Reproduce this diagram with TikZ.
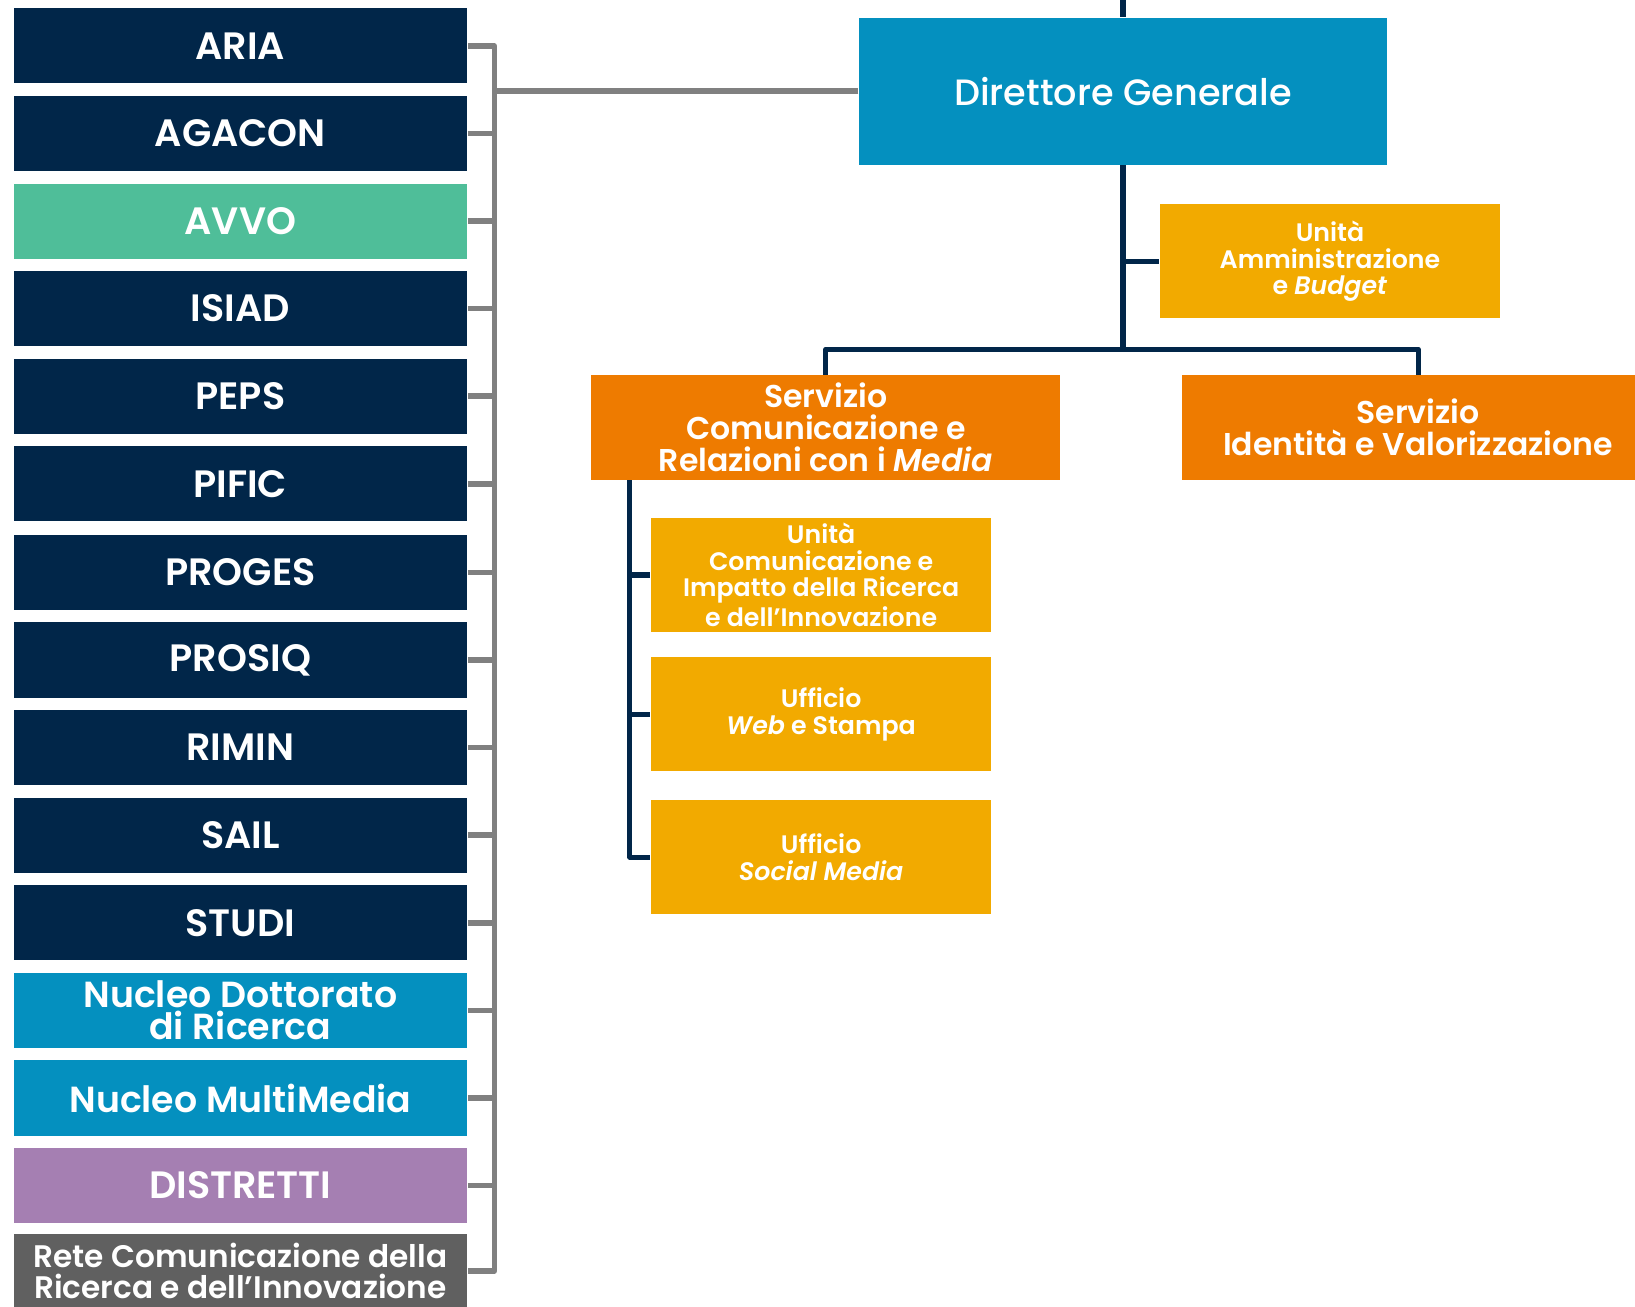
\documentclass[tikz,border=0pt]{standalone}
\usepackage{fontspec}
\setmainfont{Poppins}[BoldFont={Poppins SemiBold}, BoldItalicFont={Poppins SemiBold Italic}]
\newfontfamily\dgfont{Poppins Medium}
\usepackage{xcolor}
\definecolor{cnrnavy}{RGB}{1,38,73}
\definecolor{cnrteal}{RGB}{79,190,153}
\definecolor{cnrblue}{RGB}{4,144,191}
\definecolor{cnrpurple}{RGB}{165,127,178}
\definecolor{cnrdark}{RGB}{96,96,96}
\definecolor{cnrgray}{RGB}{128,128,128}
\definecolor{cnrorange}{RGB}{238,123,0}
\definecolor{cnryellow}{RGB}{242,170,0}

\begin{document}
\begin{tikzpicture}[x=0.1mm, y=-0.1mm,
    unitbox/.style={fill=cnrnavy, text=white, minimum width=43.5mm, minimum height=7.2mm, inner sep=0pt, align=center, font=\bfseries\fontsize{10.4}{9}\selectfont},
    nucleobox/.style={unitbox, fill=cnrblue, font=\bfseries\fontsize{9.9}{8.8}\selectfont},
    dgbox/.style={fill=cnrblue, text=white, minimum width=50.6mm, minimum height=14.1mm, inner sep=0pt, font=\dgfont\fontsize{10}{12}\selectfont},
    servbox/.style={fill=cnrorange, text=white, minimum width=45mm, minimum height=10mm, inner sep=0pt, align=center, font=\bfseries\fontsize{8.6}{8.7}\selectfont},
    officebox/.style={fill=cnryellow, text=white, minimum width=32.6mm, minimum height=10.9mm, inner sep=0pt, align=center, font=\bfseries\fontsize{6.9}{7.2}\selectfont},
    grayline/.style={draw=cnrgray, line width=1.5pt, line join=round},
    navyline/.style={draw=cnrnavy, line width=1.4pt, line join=round}]
    \useasboundingbox (0,0) rectangle (1568,1253);

    % Left column of units
    \node[unitbox] (aria) at (230.5,44) {ARIA};
    \node[unitbox] (agacon) at (230.5,128) {AGACON};
    \node[unitbox, fill=cnrteal] (avvo) at (230.5,212) {AVVO};
    \node[unitbox] (isiad) at (230.5,296) {ISIAD};
    \node[unitbox] (peps) at (230.5,380) {PEPS};
    \node[unitbox] (pific) at (230.5,464) {PIFIC};
    \node[unitbox] (proges) at (230.5,549) {PROGES};
    \node[unitbox] (prosiq) at (230.5,633) {PROSIQ};
    \node[unitbox] (rimin) at (230.5,717) {RIMIN};
    \node[unitbox] (sail) at (230.5,801) {SAIL};
    \node[unitbox] (studi) at (230.5,885) {STUDI};
    \node[nucleobox] (dottorato) at (230.5,969) {Nucleo Dottorato\\di Ricerca};
    \node[nucleobox] (multimedia) at (230.5,1053) {Nucleo MultiMedia};
    \node[unitbox, fill=cnrpurple] (distretti) at (230.5,1137) {DISTRETTI};
    \node[unitbox, fill=cnrdark, font=\bfseries\fontsize{8.5}{8.6}\selectfont] (rete) at (230.5,1219) {Rete Comunicazione della\\Ricerca e dell'Innovazione};

    % Direzione
    \node[dgbox] (dg) at (1077,87.5) {Direttore Generale};
    \node[officebox] (amm) at (1275.5,250.5) {Unità\\Amministrazione\\e \textit{Budget}};

    % Servizi
    \node[servbox] (scom) at (792,410) {Servizio\\Comunicazione e\\Relazioni con i \textit{Media}};
    \node[servbox, minimum width=45.2mm] (sid) at (1360,410) {Servizio\\Identità e Valorizzazione};

    % Unita e uffici
    \node[officebox] (ucom) at (787.5,551.5) {Unità\\Comunicazione e\\Impatto della Ricerca\\e dell'Innovazione};
    \node[officebox] (uweb) at (787.5,685) {Ufficio\\\textit{Web} e Stampa};
    \node[officebox] (usoc) at (787.5,822) {Ufficio\\\textit{Social Media}};

    % Gray bus to the units
    \coordinate (bus) at (474,0);
    \draw[grayline] (aria.east) -- (aria.east -| bus) |- (rete.east);
    \draw[grayline] (agacon.east) -- (agacon.east -| bus);
    \draw[grayline] (avvo.east) -- (avvo.east -| bus);
    \draw[grayline] (isiad.east) -- (isiad.east -| bus);
    \draw[grayline] (peps.east) -- (peps.east -| bus);
    \draw[grayline] (pific.east) -- (pific.east -| bus);
    \draw[grayline] (proges.east) -- (proges.east -| bus);
    \draw[grayline] (prosiq.east) -- (prosiq.east -| bus);
    \draw[grayline] (rimin.east) -- (rimin.east -| bus);
    \draw[grayline] (sail.east) -- (sail.east -| bus);
    \draw[grayline] (studi.east) -- (studi.east -| bus);
    \draw[grayline] (dottorato.east) -- (dottorato.east -| bus);
    \draw[grayline] (multimedia.east) -- (multimedia.east -| bus);
    \draw[grayline] (distretti.east) -- (distretti.east -| bus);
    \draw[grayline] (dg.west) -- (dg.west -| bus);

    % Navy tree
    \coordinate (top) at (1077,0);
    \coordinate (split) at (1077,335);
    \draw[navyline] (top) -- (dg.north);
    \draw[navyline] (dg.south) -- (split);
    \draw[navyline] (amm.west -| dg.south) -- (amm.west);
    \draw[navyline] (scom.north) |- (split) -| (sid.north);

    \coordinate (trunk) at (604,0);
    \draw[navyline] (scom.south -| trunk) |- (usoc.west);
    \draw[navyline] (ucom.west -| trunk) -- (ucom.west);
    \draw[navyline] (uweb.west -| trunk) -- (uweb.west);
\end{tikzpicture}
\end{document}
